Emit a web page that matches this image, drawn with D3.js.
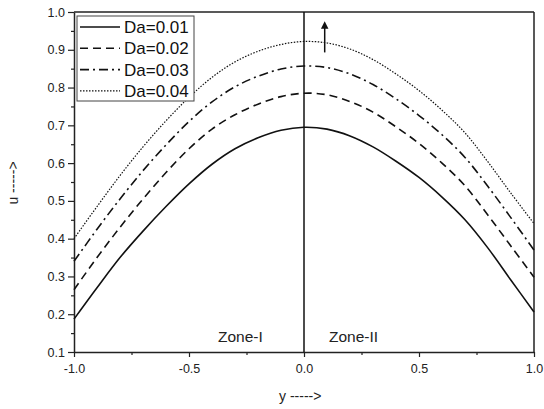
<!DOCTYPE html>
<html>
<head>
<meta charset="utf-8">
<script src="https://cdn.jsdelivr.net/npm/d3@7"></script>
<style>
  body { margin: 0; background: #fff; }
  svg { display: block; font-family: "Liberation Sans", Arial, sans-serif; }
</style>
</head>
<body>
<svg></svg>
<script>
// y positions (shared by all curves)
const yVals = [-1.0, -0.9, -0.8, -0.7, -0.6, -0.5, -0.4, -0.3, -0.2, -0.1, 0.0,
               0.1, 0.2, 0.3, 0.4, 0.5, 0.6, 0.7, 0.8, 0.9, 1.0];

// u values, one list per Darcy number
const uDa001 = [0.187, 0.27, 0.35, 0.42, 0.485, 0.545, 0.597, 0.638, 0.667, 0.687, 0.695,
                0.690, 0.672, 0.643, 0.605, 0.562, 0.51, 0.45, 0.375, 0.29, 0.206];
const uDa002 = [0.265, 0.35, 0.43, 0.505, 0.575, 0.638, 0.69, 0.728, 0.756, 0.776, 0.785,
                0.781, 0.763, 0.735, 0.696, 0.652, 0.60, 0.54, 0.462, 0.38, 0.298];
const uDa003 = [0.34, 0.425, 0.505, 0.58, 0.648, 0.71, 0.762, 0.802, 0.83, 0.849, 0.857,
                0.853, 0.836, 0.808, 0.77, 0.726, 0.675, 0.615, 0.538, 0.455, 0.37];
const uDa004 = [0.40, 0.485, 0.567, 0.643, 0.712, 0.774, 0.827, 0.868, 0.896, 0.914, 0.922,
                0.918, 0.902, 0.874, 0.836, 0.792, 0.74, 0.68, 0.603, 0.52, 0.44];

const seriesNames = ["Da=0.01", "Da=0.02", "Da=0.03", "Da=0.04"];
const seriesValues = [uDa001, uDa002, uDa003, uDa004];

const xTicks = [-1.0, -0.5, 0.0, 0.5, 1.0];
const xMinor = [-0.75, -0.25, 0.25, 0.75];
const yTicks = [0.1, 0.2, 0.3, 0.4, 0.5, 0.6, 0.7, 0.8, 0.9, 1.0];
const yMinor = [0.15, 0.25, 0.35, 0.45, 0.55, 0.65, 0.75, 0.85, 0.95];

const svgW = 544, svgH = 409;
const padL = 74, padR = 534, padT = 12, padB = 352;

const svg = d3.select("svg")
    .attr("width", svgW)
    .attr("height", svgH)
;

const xScale = d3.scaleLinear().domain([-1, 1]).range([padL, padR]);
const yScale = d3.scaleLinear().domain([0.1, 1.0]).range([padB, padT]);

// plain hyphen for negatives, like the original
const fmt = d => d.toFixed(1);

// ----- axes -----
const xAxis = d3.axisBottom(xScale).tickValues(xTicks).tickFormat(fmt).tickSize(5).tickSizeOuter(0);
const yAxis = d3.axisLeft(yScale).tickValues(yTicks).tickFormat(fmt).tickSize(6).tickSizeOuter(0);

const gx = svg.append("g").attr("transform", `translate(0,${padB})`).call(xAxis);
const gy = svg.append("g").attr("transform", `translate(${padL},0)`).call(yAxis);

svg.append("g").attr("transform", `translate(0,${padB})`)
    .call(d3.axisBottom(xScale).tickValues(xMinor).tickFormat("").tickSize(3).tickSizeOuter(0))
    .select(".domain").remove();
svg.append("g").attr("transform", `translate(${padL},0)`)
    .call(d3.axisLeft(yScale).tickValues(yMinor).tickFormat("").tickSize(3).tickSizeOuter(0))
    .select(".domain").remove();

svg.selectAll(".tick line").attr("stroke", "#222").attr("stroke-width", 1.2);
svg.selectAll(".domain").attr("stroke", "#222").attr("stroke-width", 1.5);
gx.selectAll("text").attr("font-size", 12.5).attr("fill", "#222").attr("dy", "1.05em")
    .attr("font-family", "Liberation Sans");
gy.selectAll("text").attr("font-size", 12.5).attr("fill", "#222").attr("x", -9)
    .attr("font-family", "Liberation Sans");

// frame top and right
svg.append("line").attr("x1", padL).attr("x2", padR).attr("y1", padT).attr("y2", padT)
    .attr("stroke", "#222").attr("stroke-width", 1.5);
svg.append("line").attr("x1", padR).attr("x2", padR).attr("y1", padT).attr("y2", padB)
    .attr("stroke", "#222").attr("stroke-width", 1.5);

// zone divider at y = 0
svg.append("line")
    .attr("x1", xScale(0)).attr("x2", xScale(0))
    .attr("y1", yScale(1.0)).attr("y2", yScale(0.1))
    .attr("stroke", "#111").attr("stroke-width", 1.5);

// ----- curves -----
const styles = [
    {dash: null, width: 1.6},
    {dash: "8,5", width: 1.6},
    {dash: "9,4,2,4", width: 1.6},
    {dash: "1.5,1.5", width: 1.2}
];

const line = d3.line()
    .x((d, i) => xScale(yVals[i]))
    .y(d => yScale(d))
    .curve(d3.curveCatmullRom.alpha(0.5))
;

seriesValues.forEach((vals, i) => {
    svg.append("path")
        .datum(vals)
        .attr("d", line)
        .attr("fill", "none")
        .attr("stroke", "#111")
        .attr("stroke-width", styles[i].width)
        .attr("stroke-dasharray", styles[i].dash)
    ;
});

// arrow showing increasing Da
const arrowX = 0.09, arrowFrom = 0.893, arrowTo = 0.976;
svg.append("defs").append("marker")
    .attr("id", "head")
    .attr("viewBox", "0 0 10 10")
    .attr("refX", 5).attr("refY", 5)
    .attr("markerWidth", 5).attr("markerHeight", 7)
    .attr("orient", "auto")
    .append("path").attr("d", "M0,0 L10,5 L0,10 Z").attr("fill", "#111");
svg.append("line")
    .attr("x1", xScale(arrowX)).attr("x2", xScale(arrowX))
    .attr("y1", yScale(arrowFrom)).attr("y2", yScale(arrowTo) + 4)
    .attr("stroke", "#111").attr("stroke-width", 1.5)
    .attr("marker-end", "url(#head)");

// ----- legend -----
const legend = svg.append("g");
legend.append("rect")
    .attr("x", 77).attr("y", 16).attr("width", 117).attr("height", 85)
    .attr("fill", "#fff").attr("stroke", "#444").attr("stroke-width", 1);

seriesNames.forEach((name, i) => {
    const ly = 27 + i * 21.3;
    legend.append("line")
        .attr("x1", 80).attr("x2", 120).attr("y1", ly).attr("y2", ly)
        .attr("stroke", "#111")
        .attr("stroke-width", styles[i].width)
        .attr("stroke-dasharray", styles[i].dash);
    legend.append("text")
        .attr("x", 124).attr("y", ly + 6)
        .attr("font-size", 17)
        .attr("fill", "#111")
        .text(name);
});

// zone labels
svg.append("text").attr("x", 218).attr("y", 342).attr("font-size", 15.5).attr("fill", "#222").text("Zone-I");
svg.append("text").attr("x", 329).attr("y", 342).attr("font-size", 15.5).attr("fill", "#222").text("Zone-II");

// axis titles
svg.append("text").attr("x", 279).attr("y", 401).attr("font-size", 14).attr("fill", "#222").text("y ----->");
svg.append("text")
    .attr("transform", "translate(18,183) rotate(-90)")
    .attr("text-anchor", "middle")
    .attr("font-size", 14).attr("fill", "#222")
    .text("u ----->");
</script>
</body>
</html>
